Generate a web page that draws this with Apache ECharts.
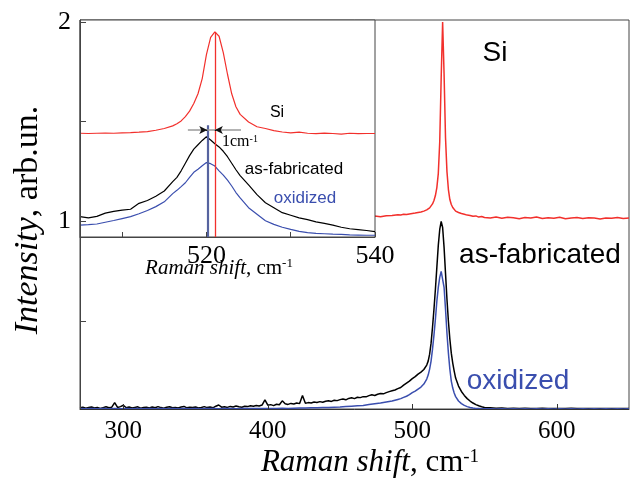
<!DOCTYPE html>
<html><head><meta charset="utf-8">
<script src="https://cdn.jsdelivr.net/npm/echarts@6/dist/echarts.min.js"></script>
<style>html,body{margin:0;padding:0;background:#fff}#c{width:630px;height:485px}</style>
</head><body><div id="c"></div>
<script>
// ---------- main plot data ----------
const mainX = [270,274,278,282,286,290,294,298,302,306,
  310,314,318,322,326,330,334,338,342,346,
  350,354,358,362,366,370,374,378,382,386,
  390,394,398,402,406,410,414,418,422,426,
  430,434,438,442,446,450,454,458,462,466,
  470,474,478,482,486,490,
  492,494,496,498,500,502,504,506,508,510,
  511,512,513,514,515,516,517,518,519,520,
  521,522,523,524,525,526,527,528,529,530,
  532,534,536,538,540,542,544,546,548,550,
  554,558,562,566,570,574,578,582,586,590,
  594,598,602,606,610,614,618,622,626,630,
  634,638,642,646,650];
const siMain = [1.020,1.024,1.018,1.022,1.016,1.021,1.025,1.019,1.017,1.023,
  1.020,1.016,1.022,1.019,1.024,1.018,1.021,1.017,1.022,1.020,
  1.015,1.021,1.019,1.024,1.018,1.016,1.022,1.020,1.017,1.023,
  1.019,1.015,1.021,1.018,1.024,1.017,1.020,1.022,1.016,1.021,
  1.019,1.023,1.017,1.020,1.022,1.018,1.024,1.019,1.021,1.026,
  1.022,1.027,1.024,1.029,1.030,1.034,
  1.033,1.036,1.035,1.038,1.040,1.042,1.045,1.048,1.052,1.058,
  1.062,1.068,1.076,1.088,1.105,1.130,1.170,1.240,1.400,1.720,
  2.000,1.740,1.420,1.250,1.160,1.110,1.085,1.070,1.060,1.052,
  1.045,1.040,1.036,1.032,1.030,1.026,1.028,1.022,1.025,1.020,
  1.018,1.022,1.016,1.021,1.019,1.014,1.020,1.017,1.022,1.015,
  1.019,1.016,1.021,1.014,1.018,1.020,1.015,1.019,1.017,1.013,
  1.018,1.016,1.020,1.015,1.017];
// as-fabricated: denser sampling of the noisy low-frequency part
const asFabLowX = [270,272,274,276,278,280,282,284,286,288,
  290,292,294,296,298,300,302,304,306,308,
  310,312,314,316,318,320,322,324,326,328,
  330,332,334,336,338,340,342,344,346,348,
  350,352,354,356,358,360,362,364,366,368,
  370,372,374,376,378,380,382,384,386,388,
  390,392,394,396,398,400,402,404,406,408,
  410,412,414,416,418,420,422,424,426,428,
  430,432,434,436,438,440,442,444,446,448,
  450,452,454,456,458,460,462,464,466,468,
  470,472,474,476,478,480,482,484,486,488,490];
const asFabLow = [0.066,0.069,0.064,0.067,0.070,0.065,0.068,0.063,0.067,0.071,
  0.066,0.069,0.092,0.068,0.072,0.079,0.066,0.070,0.065,0.068,
  0.071,0.064,0.067,0.069,0.065,0.070,0.066,0.072,0.067,0.064,
  0.069,0.071,0.066,0.068,0.065,0.070,0.073,0.066,0.069,0.067,
  0.070,0.065,0.068,0.072,0.067,0.070,0.066,0.074,0.080,0.069,
  0.071,0.068,0.073,0.070,0.075,0.071,0.069,0.074,0.072,0.076,
  0.074,0.078,0.075,0.080,0.106,0.079,0.082,0.077,0.084,0.081,
  0.101,0.086,0.083,0.088,0.085,0.090,0.087,0.128,0.089,0.092,
  0.090,0.095,0.093,0.097,0.094,0.099,0.101,0.098,0.104,0.102,
  0.107,0.110,0.106,0.113,0.116,0.112,0.119,0.117,0.122,0.121,
  0.127,0.131,0.128,0.134,0.138,0.136,0.142,0.147,0.151,0.155,0.162];
const asFabHighX = [492,494,496,498,500,502,504,506,508,510,
  511,512,513,514,515,516,517,518,519,520,
  521,522,523,524,525,526,527,528,529,530,
  532,534,536,538,540,542,544,546,548,550,
  554,558,562,566,570,574,578,582,586,590,
  594,598,602,606,610,614,618,622,626,630,
  634,638,642,646,650];
const asFabHigh = [0.168,0.180,0.190,0.200,0.212,0.222,0.235,0.245,0.258,0.280,
  0.300,0.335,0.390,0.470,0.560,0.660,0.770,0.880,0.960,1.000,
  0.970,0.870,0.740,0.610,0.500,0.410,0.340,0.290,0.250,0.215,
  0.175,0.148,0.128,0.112,0.100,0.090,0.082,0.076,0.071,0.068,
  0.066,0.064,0.065,0.063,0.064,0.062,0.064,0.063,0.062,0.064,
  0.063,0.062,0.063,0.062,0.064,0.062,0.063,0.062,0.063,0.062,
  0.063,0.062,0.062,0.063,0.062];
const oxMain = [0.062,0.061,0.062,0.061,0.062,0.061,0.062,0.061,0.062,0.061,
  0.062,0.061,0.062,0.061,0.062,0.061,0.062,0.061,0.062,0.061,
  0.062,0.061,0.062,0.062,0.061,0.062,0.062,0.061,0.062,0.062,
  0.062,0.063,0.062,0.063,0.063,0.064,0.063,0.064,0.065,0.065,
  0.066,0.066,0.067,0.068,0.069,0.070,0.072,0.074,0.076,0.078,
  0.082,0.086,0.090,0.095,0.100,0.108,
  0.112,0.118,0.124,0.132,0.142,0.150,0.160,0.170,0.185,0.210,
  0.230,0.260,0.300,0.360,0.430,0.510,0.600,0.670,0.720,0.750,
  0.740,0.670,0.560,0.440,0.340,0.260,0.200,0.165,0.140,0.122,
  0.100,0.087,0.078,0.072,0.068,0.065,0.063,0.062,0.061,0.061,
  0.061,0.060,0.061,0.060,0.061,0.060,0.061,0.060,0.061,0.060,
  0.061,0.060,0.061,0.060,0.061,0.060,0.061,0.060,0.061,0.060,
  0.061,0.060,0.061,0.060,0.061];
const mainXTicks = [300,400,500,600];
const mainYTicks = [0.5,1,1.5,2];
const mainYLabels = [1,2];

// ---------- inset data ----------
const insetX = [505,506,507,508,509,510,511,512,513,514,515,516,
  516.5,517,517.5,518,518.5,519,519.5,520,520.5,521,521.5,522,522.5,523,523.5,524,
  525,526,527,528,529,530,531,532,533,534,535,536,537,538,539,540];
const siInset = [0.478,0.477,0.478,0.479,0.478,0.480,0.481,0.483,0.486,0.492,0.500,0.512,
  0.522,0.535,0.555,0.580,0.615,0.660,0.730,0.840,0.920,0.945,0.925,0.850,0.750,0.660,0.600,0.565,
  0.530,0.508,0.500,0.490,0.484,0.480,0.483,0.478,0.476,0.479,0.477,0.474,0.478,0.476,0.477,0.477];
const asFabInset = [0.094,0.088,0.095,0.110,0.118,0.124,0.128,0.155,0.168,0.188,0.212,0.255,
  0.275,0.305,0.340,0.375,0.405,0.425,0.445,0.462,0.447,0.430,0.415,0.395,0.370,0.340,0.310,0.283,
  0.240,0.195,0.158,0.135,0.112,0.100,0.088,0.080,0.070,0.063,0.055,0.045,0.038,0.034,0.030,0.025];
const oxInset = [0.055,0.057,0.060,0.068,0.076,0.085,0.094,0.107,0.122,0.140,0.162,0.200,
  0.215,0.232,0.250,0.275,0.298,0.312,0.328,0.343,0.338,0.327,0.305,0.285,0.262,0.235,0.205,0.180,
  0.135,0.105,0.075,0.058,0.045,0.035,0.026,0.020,0.017,0.015,0.013,0.012,0.010,0.009,0.008,0.008];
const insetXTicks = [510,520,530,540];
const insetXLabels = [520,540];
const peakOx = 520.1, peakSi = 521.0;   // marked peak positions
const peakSiHeight = 0.945, oxLineTop = 0.515, arrowLevel = 0.493;
const arrowSpan = [517.8, 524.1];

const zip = (xs, ys) => xs.map((x, i) => [x, ys[i]]);
const RED = '#f2302c', BLUE = '#3a4eae', SERIF = '"Liberation Serif","Times New Roman",serif', SANS = '"Liberation Sans",Arial,sans-serif';
const ls = (color, width) => ({color: color, width: width, type: 'solid'});
const seg = (a, b, style, arrow) => [
  {coord: a, lineStyle: style, symbol: 'none'},
  arrow ? {coord: b, lineStyle: style, symbol: 'arrow', symbolSize: [6, 8]} : {coord: b, lineStyle: style, symbol: 'none'}
];

const chart = echarts.init(document.getElementById('c'), null, {renderer: 'canvas'});
chart.setOption({
  animation: false,
  backgroundColor: '#fff',
  grid: [
    {left: 80, top: 20, right: 1, bottom: 76, show: true, backgroundColor: '#fff', borderColor: '#444', borderWidth: 1, z: 0},
    {left: 80, top: 20, width: 295, height: 217, show: true, backgroundColor: '#fff', borderColor: '#444', borderWidth: 1, z: 3}
  ],
  xAxis: [
    {type: 'value', gridIndex: 0, min: 270, max: 650, z: 6,
      axisLine: {show: true, lineStyle: {color: '#333', width: 1}},
      axisTick: {show: true, inside: true, length: 5, customValues: mainXTicks, lineStyle: {color: '#333'}},
      axisLabel: {customValues: mainXTicks, margin: 10, color: '#000', fontFamily: SERIF, fontSize: 25},
      splitLine: {show: false}},
    {type: 'value', gridIndex: 1, min: 505, max: 540, z: 6,
      axisLine: {show: true, lineStyle: {color: '#444', width: 1}},
      axisTick: {show: true, inside: true, length: 5, customValues: insetXTicks, lineStyle: {color: '#444'}},
      axisLabel: {customValues: insetXLabels, margin: 6, color: '#000', fontFamily: SERIF, fontSize: 26},
      splitLine: {show: false}}
  ],
  yAxis: [
    {type: 'value', gridIndex: 0, min: 0.06, max: 2.01, z: 6,
      axisLine: {show: true, lineStyle: {color: '#444', width: 1}},
      axisTick: {show: true, inside: true, length: 6, customValues: mainYTicks, lineStyle: {color: '#444'}},
      axisLabel: {customValues: mainYLabels, margin: 9, color: '#000', fontFamily: SERIF, fontSize: 26},
      splitLine: {show: false}},
    {type: 'value', gridIndex: 1, min: 0, max: 1, show: false, splitLine: {show: false}}
  ],
  series: [
    {type: 'line', xAxisIndex: 0, yAxisIndex: 0, data: zip(mainX, siMain), showSymbol: false, z: 2,
      lineStyle: {color: RED, width: 1.5}, silent: true},
    {type: 'line', xAxisIndex: 0, yAxisIndex: 0, data: zip(asFabLowX.concat(asFabHighX), asFabLow.concat(asFabHigh)), showSymbol: false, z: 2,
      lineStyle: {color: '#000', width: 1.5}, silent: true},
    {type: 'line', xAxisIndex: 0, yAxisIndex: 0, data: zip(mainX, oxMain), showSymbol: false, z: 2,
      lineStyle: {color: BLUE, width: 1.5}, silent: true},
    {type: 'line', xAxisIndex: 1, yAxisIndex: 1, data: zip(insetX, siInset), showSymbol: false, z: 5,
      color: RED, lineStyle: {color: RED, width: 1.2}, silent: true,
      markLine: {silent: true, symbol: ['none', 'none'], label: {show: false}, animation: false,
        lineStyle: {color: RED, width: 1.3, type: 'solid'},
        data: [seg([peakSi, 0], [peakSi, peakSiHeight], ls(RED, 1.3), false)]}},
    {type: 'line', xAxisIndex: 1, yAxisIndex: 1, data: zip(insetX, asFabInset), showSymbol: false, z: 4,
      lineStyle: {color: '#000', width: 1.2}, silent: true},
    {type: 'line', xAxisIndex: 1, yAxisIndex: 1, data: zip(insetX, oxInset), showSymbol: false, z: 4,
      lineStyle: {color: BLUE, width: 1.2}, silent: true,
      markLine: {silent: true, symbol: ['none', 'none'], label: {show: false}, animation: false,
        data: [
          seg([peakOx, 0], [peakOx, oxLineTop], ls('#56639f', 2.2), false),
          seg([arrowSpan[0], arrowLevel], [arrowSpan[1], arrowLevel], ls('#9a9a9a', 1.5), false),
          seg([peakOx - 0.15, arrowLevel], [peakOx, arrowLevel], ls('#111', 1), true),
          seg([peakSi + 0.15, arrowLevel], [peakSi, arrowLevel], ls('#111', 1), true)
        ]}}
  ],
  graphic: [
    {type: 'text', z: 20, x: 495, y: 53, style: {text: 'Si', font: '28px ' + SANS, fill: '#000', align: 'center', verticalAlign: 'middle', textAlign: 'center', textVerticalAlign: 'middle'}},
    {type: 'text', z: 20, x: 540, y: 255, style: {text: 'as-fabricated', font: '28px ' + SANS, fill: '#000', align: 'center', verticalAlign: 'middle', textAlign: 'center', textVerticalAlign: 'middle'}},
    {type: 'text', z: 20, x: 518, y: 381, style: {text: 'oxidized', font: '28px ' + SANS, fill: BLUE, align: 'center', verticalAlign: 'middle', textAlign: 'center', textVerticalAlign: 'middle'}},
    {type: 'text', z: 20, x: 277, y: 113, style: {text: 'Si', font: '16px ' + SANS, fill: '#000', align: 'center', verticalAlign: 'middle', textAlign: 'center', textVerticalAlign: 'middle'}},
    {type: 'text', z: 20, x: 294, y: 169, style: {text: 'as-fabricated', font: '17px ' + SANS, fill: '#000', align: 'center', verticalAlign: 'middle', textAlign: 'center', textVerticalAlign: 'middle'}},
    {type: 'text', z: 20, x: 305, y: 198, style: {text: 'oxidized', font: '17px ' + SANS, fill: BLUE, align: 'center', verticalAlign: 'middle', textAlign: 'center', textVerticalAlign: 'middle'}},
    {type: 'text', z: 20, x: 222, y: 142, style: {text: '1cm{s|-1}', font: '16px ' + SERIF, fill: '#000', align: 'left', verticalAlign: 'middle', textAlign: 'left', textVerticalAlign: 'middle',
      rich: {s: {fontSize: 10, fontFamily: SERIF, verticalAlign: 'top', fill: '#000'}}}},
    {type: 'text', z: 20, x: 219, y: 268, style: {text: '{i|Raman shift}, cm{s|-1}', font: '21px ' + SERIF, fill: '#000', align: 'center', verticalAlign: 'middle', textAlign: 'center', textVerticalAlign: 'middle',
      rich: {i: {fontStyle: 'italic', fontSize: 21, fontFamily: SERIF, fill: '#000'}, s: {fontSize: 13, fontFamily: SERIF, verticalAlign: 'top', fill: '#000'}}}},
    {type: 'text', z: 20, x: 370, y: 463, style: {text: '{i|Raman shift}, cm{s|-1}', font: '31px ' + SERIF, fill: '#000', align: 'center', verticalAlign: 'middle', textAlign: 'center', textVerticalAlign: 'middle',
      rich: {i: {fontStyle: 'italic', fontSize: 31, fontFamily: SERIF, fill: '#000'}, s: {fontSize: 19, fontFamily: SERIF, verticalAlign: 'top', fill: '#000'}}}},
    {type: 'text', z: 20, x: 28, y: 220, rotation: Math.PI / 2, style: {text: '{i|Intensity}, arb.un.', font: '34px ' + SERIF, fill: '#000', align: 'center', verticalAlign: 'middle', textAlign: 'center', textVerticalAlign: 'middle',
      rich: {i: {fontStyle: 'italic', fontSize: 34, fontFamily: SERIF, fill: '#000'}}}}
  ]
});
</script></body></html>
